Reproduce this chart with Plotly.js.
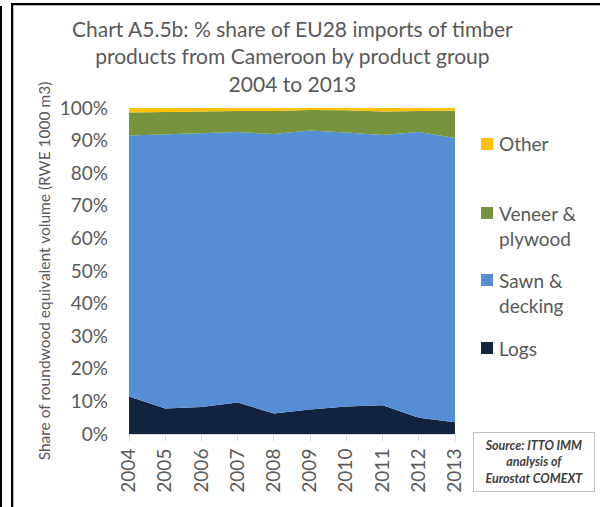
<!DOCTYPE html>
<html>
<head>
<meta charset="utf-8">
<script src="https://cdn.plot.ly/plotly-3.0.1.min.js"></script>
<style>
html,body{margin:0;padding:0;background:#fff;}
#wrap{position:relative;width:600px;height:507px;overflow:hidden;}
#chart{position:absolute;left:0;top:0;width:600px;height:507px;}
.frameA{position:absolute;left:11px;top:3px;width:600px;height:520px;border-left:2px solid #000;border-top:2px solid #000;box-shadow:inset 1px 1px 0 #bbb;pointer-events:none;}
.frameB{position:absolute;left:0px;top:6px;width:2px;height:510px;background:#000;pointer-events:none;}
</style>
</head>
<body>
<div id="wrap">
<div id="chart"></div>
<div class="frameA"></div>
<div class="frameB"></div>
</div>
<script>
var years = [2004, 2005, 2006, 2007, 2008, 2009, 2010, 2011, 2012, 2013];
var logs   = [11.5, 7.8, 8.3, 9.7, 6.3, 7.5, 8.4, 8.8, 5.0, 3.6];
var sawn   = [80.1, 84.1, 83.8, 82.9, 85.7, 85.6, 84.1, 82.9, 87.6, 87.2];
var veneer = [7.0, 6.9, 6.9, 6.5, 7.1, 6.3, 6.8, 7.2, 6.5, 8.4];
var other  = [1.4, 1.2, 1.0, 0.9, 0.9, 0.6, 0.7, 1.1, 0.9, 0.8];
var seriesNames = ["Logs", "Sawn & decking", "Veneer & plywood", "Other"];
var legendLabels = ["Logs", "Sawn &<br>decking", "Veneer &<br>plywood", "Other"];
var seriesColors = ["#12233f", "#558ed5", "#77933c", "#ffc000"];
var yTickVals = [0,10,20,30,40,50,60,70,80,90,100];
var titleText = 'Chart A5.5b: % share of EU28 imports of timber<br>products from Cameroon by product group<br>2004 to 2013';

var seriesData = [logs, sawn, veneer, other];
var traces = seriesData.map(function(d, i){
  return {
    x: years, y: d, name: seriesNames[i], type: 'scatter', mode: 'lines',
    stackgroup: 'one', line: {width: 0, color: seriesColors[i]},
    fillcolor: seriesColors[i], showlegend: false, hoverinfo: 'skip'
  };
});

var FONT = 'Lato, "Open Sans", sans-serif';
var GREY = '#595959';

var legendY = [348, 293, 226, 143];
var squareY = [348, 280, 213, 144];
var W = 600, H = 507, mL = 129, mR = 145, mT = 108, mB = 73;
var pw = W - mL - mR, ph = H - mT - mB;
function px2x(px){ return (px - mL) / pw; }
function px2y(py){ return (H - mB - py) / ph; }

var annotations = [];
var shapes = [];
for (var i = 0; i < 4; i++) {
  annotations.push({
    xref: 'paper', yref: 'paper', x: px2x(497), y: px2y(legendY[i]),
    xanchor: 'left', yanchor: 'middle', align: 'left', showarrow: false,
    text: legendLabels[i], font: {family: FONT, size: 19, color: GREY}
  });
  shapes.push({
    type: 'rect', xref: 'paper', yref: 'paper',
    x0: px2x(481), x1: px2x(493), y0: px2y(squareY[i] + 6), y1: px2y(squareY[i] - 6),
    fillcolor: seriesColors[i], line: {width: 0}
  });
}
annotations.push({
  xref: 'paper', yref: 'paper', x: px2x(533.5), y: px2y(462),
  xanchor: 'center', yanchor: 'middle', showarrow: false, align: 'center',
  text: '<b><i>Source: ITTO IMM<br>analysis of<br>Eurostat COMEXT</i></b>',
  font: {family: FONT, size: 12.5, color: '#404040'},
  bordercolor: '#bfbfbf', borderwidth: 1, borderpad: 5, bgcolor: '#fff', width: 110
});
annotations.push({
  xref: 'paper', yref: 'paper', x: px2x(292), y: px2y(56),
  xanchor: 'center', yanchor: 'middle', showarrow: false, align: 'center',
  text: titleText, font: {family: FONT, size: 21, color: GREY}
});

var layout = {
  width: W, height: H,
  margin: {l: mL, r: mR, t: mT, b: mB, pad: 0},
  paper_bgcolor: 'rgba(0,0,0,0)', plot_bgcolor: '#fff',
  xaxis: {
    type: 'linear', range: [2004, 2013], tickvals: years, ticktext: years.map(String),
    tickangle: -90, showline: true, linecolor: '#d9d9d9', linewidth: 1,
    ticks: 'outside', ticklen: 6, tickcolor: '#d9d9d9', showgrid: false, zeroline: false,
    tickfont: {family: FONT, size: 19, color: GREY}
  },
  yaxis: {
    range: [0, 100], tickvals: yTickVals, ticktext: yTickVals.map(function(v){return v + '%';}),
    showline: false, showgrid: false, zeroline: false, ticks: '',
    ticklabelstandoff: 20,
    tickfont: {family: FONT, size: 19, color: GREY},
    title: {text: 'Share of roundwood equivalent volume (RWE 1000 m3)',
      font: {family: FONT, size: 15.5, color: GREY}, standoff: 5}
  },
  annotations: annotations,
  shapes: shapes,
  showlegend: false
};

Plotly.newPlot('chart', traces, layout, {displayModeBar: false, staticPlot: true});
</script>
</body>
</html>
